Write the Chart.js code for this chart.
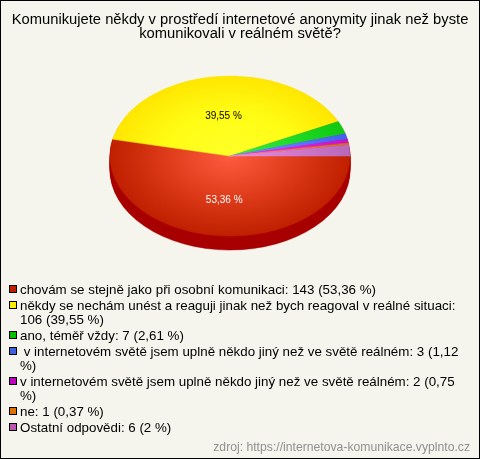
<!DOCTYPE html>
<html><head><meta charset="utf-8">
<style>
html,body{margin:0;padding:0;background:#f5f5ee}
#wrap{position:relative;width:480px;height:459px;overflow:hidden}
canvas{position:absolute;left:0;top:0}
</style>
<script src="https://cdn.jsdelivr.net/npm/chart.js@4"></script>
</head><body><div id="wrap"><canvas id="c" width="480" height="459"></canvas></div>
<script>
const titleLines = ["Komunikujete někdy v prostředí internetové anonymity jinak než byste","komunikovali v reálném světě?"];
const categories = ["chovám se stejně jako při osobní komunikaci","někdy se nechám unést a reaguji jinak než bych reagoval v reálné situaci","ano, téměř vždy"," v internetovém světě jsem uplně někdo jiný než ve světě reálném","v internetovém světě jsem uplně někdo jiný než ve světě reálném","ne","Ostatní odpovědi"];
const values = [143,106,7,3,2,1,6];
const percents = ["53,36","39,55","2,61","1,12","0,75","0,37","2"];
const legendLines = [
 ["chovám se stejně jako při osobní komunikaci: 143 (53,36 %)"],
 ["někdy se nechám unést a reaguji jinak než bych reagoval v reálné situaci:","106 (39,55 %)"],
 ["ano, téměř vždy: 7 (2,61 %)"],
 [" v internetovém světě jsem uplně někdo jiný než ve světě reálném: 3 (1,12","%)"],
 ["v internetovém světě jsem uplně někdo jiný než ve světě reálném: 2 (0,75","%)"],
 ["ne: 1 (0,37 %)"],
 ["Ostatní odpovědi: 6 (2 %)"]];
const innerColors = ["#ff5c40","#ffff28","#38ec48","#7a90ff","#f438f4","#ff9838","#e890e0"];
const midColors = ["#dc3a18","#fffc14","#20da28","#5a78ff","#e020e0","#f08020","#d078cc"];
const outerColors = ["#c02000","#ffe600","#10c810","#4060f0","#c810c8","#d87000","#b868b8"];
const swatchColors = ["#c02000","#ffee00","#00c000","#4060e0","#c000c0","#e07000","#b858b0"];
const footer = "zdroj: https://internetova-komunikace.vyplnto.cz";
const sideColor = "#a80000";

const FONT = '"Liberation Sans", Arial, sans-serif';
const SQUASH = 2/3, DEPTH = 14, SHIFT_X = -10;

const flatten = {
  id:'flatten',
  beforeDatasetsDraw(chart){
    const ctx = chart.ctx, meta = chart.getDatasetMeta(0), a0 = meta.data[0];
    const px = a0.x, py = a0.y;
    const stash = meta.data.map(el=>el.options);
    meta.data.forEach(el=>{el.options = Object.assign({},el.options,{backgroundColor:sideColor,borderColor:sideColor});});
    for(let d=DEPTH;d>=1;d--){
      ctx.save();
      ctx.translate(px+SHIFT_X,py+d);ctx.scale(1,SQUASH);ctx.translate(-px,-py);
      meta.data.forEach(el=>el.draw(ctx));
      ctx.restore();
    }
    meta.data.forEach((el,i)=>{el.options = stash[i];});
    ctx.save();
    ctx.translate(px+SHIFT_X,py);ctx.scale(1,SQUASH);ctx.translate(-px,-py);
  },
  afterDatasetsDraw(chart){
    chart.ctx.restore();
    const ctx = chart.ctx, meta = chart.getDatasetMeta(0);
    ctx.font = '10px '+FONT;ctx.textAlign='center';ctx.textBaseline='middle';
    meta.data.forEach((el,i)=>{
      if(values[i]<20) return;
      const mid=(el.startAngle+el.endAngle)/2, r=el.outerRadius/2;
      const x=el.x+SHIFT_X+Math.cos(mid)*r+0.5, y=el.y+Math.sin(mid)*r*SQUASH+(Math.sin(mid)>0?4:0);
      ctx.fillStyle=i===0?'#ffffff':'#000000';
      ctx.fillText(percents[i]+' %',x,y);
    });
  }
};

const page = {
  id:'page',
  beforeDraw(chart){
    const ctx=chart.ctx;
    ctx.save();ctx.fillStyle='#f5f5ee';ctx.fillRect(0,0,480,459);ctx.restore();
  },
  afterDraw(chart){
    const ctx=chart.ctx;
    ctx.save();
    ctx.textBaseline='alphabetic';ctx.textAlign='left';
    ctx.font='13.35px '+FONT;
    let y=294;
    legendLines.forEach((lines,i)=>{
      ctx.fillStyle=swatchColors[i];ctx.fillRect(9,y-9,8,8);
      ctx.strokeStyle='#000';ctx.lineWidth=1;ctx.strokeRect(9.5,y-8.5,7,7);
      ctx.fillStyle='#000';
      lines.forEach((t,j)=>{
        ctx.fillText(t,20,y);
        y+= j<lines.length-1 ? 14 : 16;
      });
    });
    ctx.font='12.2px '+FONT;ctx.fillStyle='#909090';ctx.textAlign='right';
    ctx.fillText(footer,470,451);
    ctx.strokeStyle='#000';ctx.lineWidth=1;ctx.strokeRect(0.5,0.5,479,458);
    ctx.restore();
  }
};

function sliceGradient(c){
  const {chart,dataIndex}=c;
  const a=chart.chartArea; if(!a) return outerColors[dataIndex];
  const cx=(a.left+a.right)/2, cy=(a.top+a.bottom)/2;
  const g=chart.ctx.createRadialGradient(cx,cy,0,cx,cy,120);
  g.addColorStop(0,innerColors[dataIndex]);
  g.addColorStop(0.55,midColors[dataIndex]);
  g.addColorStop(1,outerColors[dataIndex]);
  return g;
}

new Chart(document.getElementById('c'),{
  type:'pie',
  data:{labels:categories,datasets:[{
    data:values,
    borderWidth:0.6,
    borderColor:sliceGradient,
    backgroundColor:sliceGradient
  }]},
  options:{
    responsive:false,animation:false,rotation:90,radius:120,
    layout:{padding:{left:0,right:0,top:0,bottom:188}},
    plugins:{
      legend:{display:false},tooltip:{enabled:false},
      title:{display:true,text:titleLines,font:{family:FONT,size:14.75,weight:'normal',lineHeight:0.95},color:'#000',padding:{top:13,bottom:0}}
    }
  },
  plugins:[flatten,page]
});
</script></body></html>
